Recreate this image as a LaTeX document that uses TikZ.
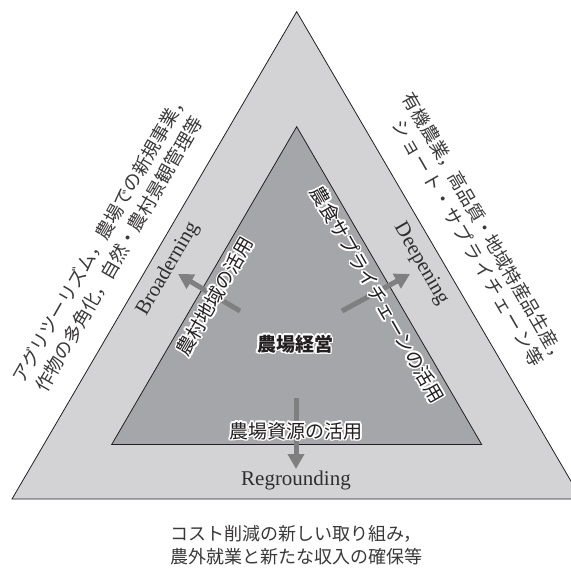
\documentclass[tikz,border=0pt]{standalone}
\usepackage{fontspec}
\newfontfamily\jp{Noto Sans CJK JP}
\newfontfamily\engfont{Liberation Serif}
\usetikzlibrary{arrows.meta,calc}
\definecolor{outerfill}{HTML}{D3D3D5}
\definecolor{innerfill}{HTML}{A5A6A9}
\definecolor{arrowgray}{HTML}{7F7F7F}
\definecolor{ink}{HTML}{231F20}
\definecolor{outink}{HTML}{3A3839}
\definecolor{engink}{HTML}{2E2E2E}
\def\ks{\kern1.8pt}
\tikzset{
  tri/.style={draw=ink, line width=0.8pt, line join=miter},
  bigarrow/.style={draw=arrowgray, line width=5pt, -{Triangle[length=15pt,width=16pt]}},
  eng/.style={inner sep=0pt, text=engink, font=\engfont\fontsize{21}{24}\selectfont},
  outerjp/.style={inner sep=0pt, text=outink, font=\jp\fontsize{18.5}{22}\selectfont},
  innerjp/.style={inner sep=0pt, text=ink, font=\jp\fontsize{19}{22}\selectfont},
  farmjp/.style={inner sep=0pt, text=ink, font=\jp\bfseries\fontsize{19}{22}\selectfont},
}
% #1 name, #2 position, #3 rotation, #4 style, #5 text
\newcommand\halonode[5]{%
  \foreach \a in {0,30,...,330}{
    \node[#4, rotate=#3, text=white] at ($#2+(\a:1.7)$) {#5};
  }
  \node[#4, rotate=#3] (#1) at #2 {#5};
}
\begin{document}
\begin{tikzpicture}[x=1pt,y=-1pt]
\useasboundingbox (0,0) rectangle (571,568);
% triangles
\coordinate (OA) at (296.7,11.7);
\coordinate (OL) at (12,499);
\coordinate (OR) at (581.4,499);
\coordinate (IA) at (296.7,126.7);
\coordinate (IL) at (111.7,444.5);
\coordinate (IR) at (481.7,444.5);
\draw[tri, fill=outerfill] (OA) -- (OL) -- (OR) -- cycle;
\draw[tri, fill=innerfill] (IA) -- (IL) -- (IR) -- cycle;
% arrows
\coordinate (dT) at (296,398);
\coordinate (dH) at (296,469);
\coordinate (lT) at (240,311);
\coordinate (lH) at (178,274);
\coordinate (rT) at (342,311);
\coordinate (rH) at (410,274);
\draw[bigarrow] (dT) -- (dH);
\draw[bigarrow] (lT) -- (lH);
\draw[bigarrow] (rT) -- (rH);
% English labels
\node[eng, rotate=60] (broad) at (168,269) {Broaderning};
\node[eng, rotate=-60] (deep) at (421,264) {Deepening};
\node[eng] (regr) at (296,480) {Regrounding};
% inner labels with halo
\halonode{farm}{(295,344)}{0}{farmjp}{農場経営}
\halonode{res}{(296,431)}{0}{innerjp}{農場資源の活用}
\halonode{rural}{(215,296.5)}{60}{innerjp}{農村地域の活用}
\halonode{chain}{(377.5,294.5)}{-60}{innerjp}{農食サプライチェーンの活用}
% outer texts
\node[outerjp, rotate=60] (l1) at (100.3,237.5) {アグリツーリズム，農場での新規事業，};
\node[outerjp, rotate=60] (l2) at (119,254) {作物の多角化，自然・農村景観管理等};
\node[outerjp, rotate=-60, font=\jp\fontsize{18.2}{22}\selectfont] (r1) at (485,228.5) {有機農業，高品質・地域特産品生産，};
\node[outerjp, rotate=-60] (r2) at (468.6,243.2) {シ\ks ョ\ks ー\ks ト\ks ・\ks サ\ks プ\ks ラ\ks イ\ks チ\ks ェ\ks ー\ks ン\ks 等};
\node[outerjp, font=\jp\fontsize{18}{22}\selectfont] (b1) at (296,533.5) {コスト削減の新しい取り組み，};
\node[outerjp, font=\jp\fontsize{18}{22}\selectfont] (b2) at (296,557) {農外就業と新たな収入の確保等};
\end{tikzpicture}
\end{document}
